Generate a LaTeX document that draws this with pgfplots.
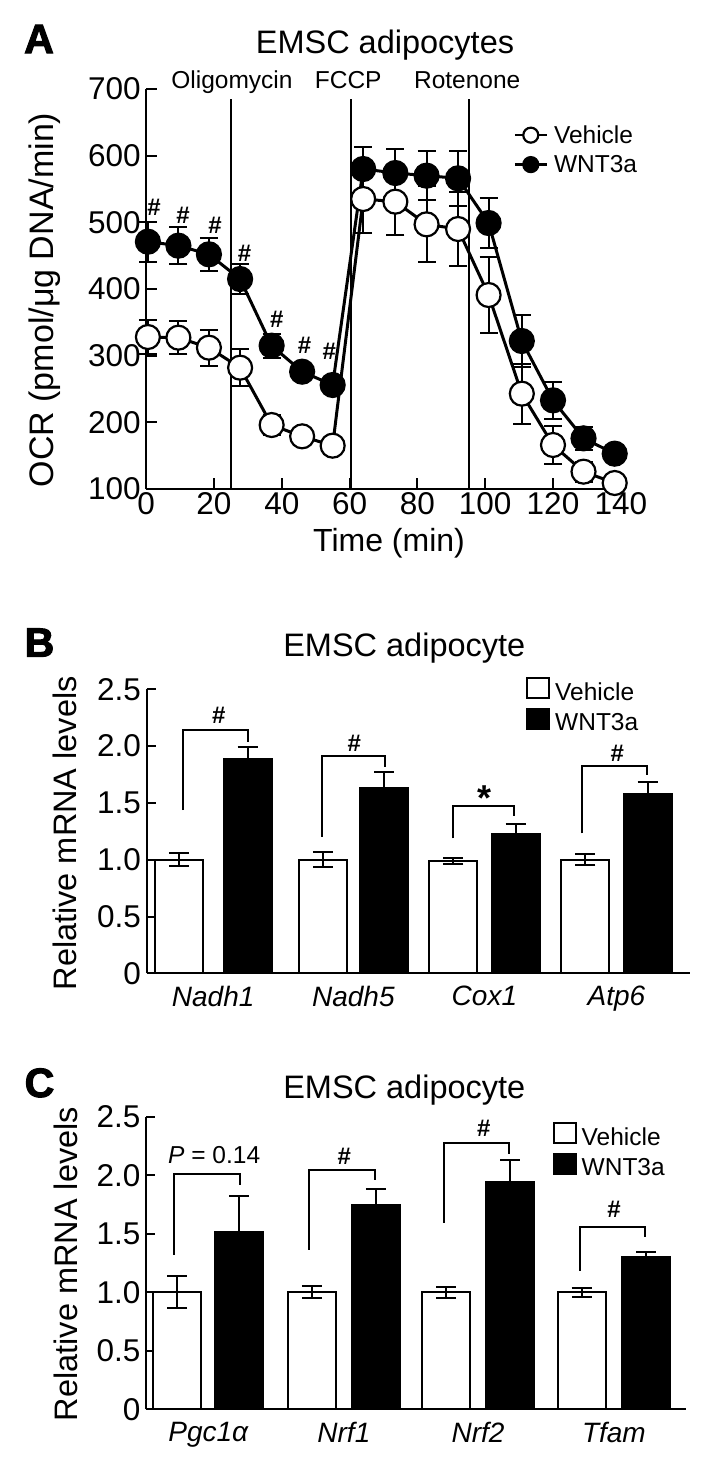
\documentclass[border=0pt]{standalone}
\usepackage{fontspec}
\setmainfont{Liberation Sans}
\newfontfamily\heavyfont{Liberation Sans}[FakeBold=2.5]
\usepackage{pgfplots}
\pgfplotsset{compat=1.18}

\newcommand{\fs}[1]{\fontsize{#1}{#1}\selectfont}

\pgfplotsset{
  panel/.style={
    scale only axis, clip=false,
    axis x line=bottom, axis y line=left,
    axis line style={-, line width=2pt},
    tick align=inside,
    tick style={black, line width=2pt},
    major tick length=9pt,
    tick label style={font=\fs{31.5}},
    yticklabel style={xshift=-2pt},
    /pgf/number format/assume math mode=true,
  },
  barpanel/.style={
    panel, ybar, bar width=48, bar shift=0pt,
    ymin=0, ymax=2.5,
    ytick={0,0.5,1,1.5,2,2.5},
    yticklabels={0,0.5,1.0,1.5,2.0,2.5},
    xtick style={draw=none},
    xticklabel style={font=\itshape\fs{28}},
    legend style={draw=none, fill=none, font=\fs{24.5}, inner sep=0pt,
      row sep=4.5pt, column sep=4pt, nodes={inner sep=1pt}},
    legend cell align=left,
    legend image code/.code={\draw[##1,/tikz/.cd,line width=2pt] (0pt,-6pt) rectangle (22pt,14pt);},
  },
  vbar/.style={fill=white, draw=black, line width=2pt,
    error bars/.cd, y dir=both, y explicit,
    error bar style={line width=2pt},
    error mark options={rotate=90, mark size=10pt, line width=2pt}},
  wbar/.style={fill=black, draw=black, line width=2pt,
    error bars/.cd, y dir=plus, y explicit,
    error bar style={line width=2pt},
    error mark options={rotate=90, mark size=10pt, line width=2pt}},
}

\begin{document}
\begin{tikzpicture}
\path[use as bounding box] (0,0) rectangle (716pt,-1470pt);

% ---------------- panel A ----------------
\node[font=\heavyfont\bfseries\fs{41}, anchor=base] at (39pt,-53pt) {A};
\node[font=\fs{32.5}, anchor=base] at (385pt,-53pt) {EMSC adipocytes};
\node[font=\fs{34}, rotate=90, anchor=base] at (53pt,-300pt) {OCR (pmol/μg DNA/min)};
\node[font=\fs{32}, anchor=base] at (389pt,-551pt) {Time (min)};

\begin{axis}[panel,
  at={(146.2pt,-489pt)}, anchor=south west,
  width=474.6pt, height=400pt,
  xmin=0, xmax=140, ymin=100, ymax=700,
  xtick={0,20,...,140}, ytick={100,200,...,700},
  major tick length=11pt,
  legend style={at={(axis cs:108.3,647)}, anchor=north west,
    draw=none, fill=none, font=\fs{24.5}, inner sep=0pt,
    row sep=8.5pt, column sep=5pt, nodes={inner sep=1pt}},
  legend cell align=left,
  legend image code/.code={\draw[mark repeat=2, mark phase=2, #1]
    plot coordinates {(0pt,0pt) (16pt,0pt) (32pt,0pt)};},
  legend image post style={mark size=7.5pt, line width=2.5pt},
]
% drug injections
\draw[line width=1.8pt] (axis cs:25.1,100) -- (axis cs:25.1,685);
\draw[line width=1.8pt] (axis cs:60.4,100) -- (axis cs:60.4,685);
\draw[line width=1.8pt] (axis cs:95.2,100) -- (axis cs:95.2,685);
\node[font=\fs{24.5}, anchor=base] at (axis cs:25.3,701) {Oligomycin};
\node[font=\fs{24.5}, anchor=base] at (axis cs:59.6,701) {FCCP};
\node[font=\fs{24.5}, anchor=base] at (axis cs:94.7,701) {Rotenone};

\addplot[black, line width=3pt, mark=*, mark size=12pt,
  mark options={solid, fill=white, draw=black, line width=2.2pt},
  error bars/.cd, y dir=both, y explicit,
  error bar style={line width=2pt},
  error mark options={rotate=90, mark size=9pt, line width=2pt}]
table[x=t, y=v, y error=e] {
t v e
0.5 328 25
9.5 327 25
18.5 312 27
27.7 282 28
37 196 15
46 179 10
55 165 12
64 535 51
73.5 531 50
82.7 497 57
92 490 56
101 391 57
110.8 243 45
120 166 28
129 126 15
138.2 109 10
};
\addplot[black, line width=3pt, mark=*, mark size=12pt,
  mark options={solid, fill=black, draw=black, line width=2.2pt},
  error bars/.cd, y dir=both, y explicit,
  error bar style={line width=2pt},
  error mark options={rotate=90, mark size=9pt, line width=2pt}]
table[x=t, y=v, y error=e] {
t v e
0.5 471 30
9.5 465 28
18.5 452 25
27.7 415 22
37 315 18
46 276 12
55 256 12
64 580 33
73.5 574 36
82.7 570 37
92 566 41
101 499 38
110.8 322 39
120 233 28
129 176 17
138.2 153 12
};
\legend{Vehicle, WNT3a}
\node[font=\bfseries\fs{24}] at (axis cs:2.3,522) {\#};
\node[font=\bfseries\fs{24}] at (axis cs:10.9,510) {\#};
\node[font=\bfseries\fs{24}] at (axis cs:20.3,495) {\#};
\node[font=\bfseries\fs{24}] at (axis cs:29,453) {\#};
\node[font=\bfseries\fs{24}] at (axis cs:38.5,355) {\#};
\node[font=\bfseries\fs{24}] at (axis cs:46.7,316) {\#};
\node[font=\bfseries\fs{24}] at (axis cs:54,306) {\#};
\end{axis}

% ---------------- panel B ----------------
\node[font=\heavyfont\bfseries\fs{41}, anchor=base] at (39.5pt,-656.7pt) {B};
\node[font=\fs{32.5}, anchor=base] at (404.3pt,-656.7pt) {EMSC adipocyte};
\node[font=\fs{32.5}, rotate=90, anchor=base] at (76.7pt,-833.3pt) {Relative mRNA levels};

\begin{axis}[barpanel,
  at={(146.5pt,-973.3pt)}, anchor=south west,
  width=543.7pt, height=284pt,
  xmin=146.5, xmax=690.2,
  xtick={213.2,353.4,484.4,616.5},
  xticklabels={Nadh1,Nadh5,Cox1,Atp6},
  legend style={at={(axis cs:526,2.606)}, anchor=north west},
]
\addplot[vbar] table[x=x, y=v, y error=e] {
x v e
178.8 1.00 0.055
322.8 1.00 0.066
453.3 0.99 0.028
585.4 1.00 0.048
};
\addplot[wbar] table[x=x, y=v, y error=e] {
x v e
247.6 1.886 0.11
384.0 1.634 0.14
515.5 1.224 0.093
647.5 1.576 0.105
};
\legend{Vehicle, WNT3a}
\draw[line width=2pt] (axis cs:183.1,1.437) |- (axis cs:248.3,2.142) -- (axis cs:248.3,2.039);
\draw[line width=2pt] (axis cs:321.6,1.200) |- (axis cs:385.0,1.915) -- (axis cs:385.0,1.819);
\draw[line width=2pt] (axis cs:453.3,1.188) |- (axis cs:513.9,1.473) -- (axis cs:513.9,1.385);
\draw[line width=2pt] (axis cs:581.8,1.232) |- (axis cs:646.9,1.827) -- (axis cs:646.9,1.746);
\node[font=\bfseries\fs{24}] at (axis cs:218.7,2.274) {\#};
\node[font=\bfseries\fs{24}] at (axis cs:354.4,2.027) {\#};
\node[font=\bfseries\fs{36}, anchor=base] at (axis cs:484.3,1.437) {*};
\node[font=\bfseries\fs{24}] at (axis cs:617.3,1.937) {\#};
\end{axis}

% ---------------- panel C ----------------
\node[font=\heavyfont\bfseries\fs{41}, anchor=base] at (39.5pt,-1097pt) {C};
\node[font=\fs{32.5}, anchor=base] at (404.3pt,-1098pt) {EMSC adipocyte};
\node[font=\fs{32.5}, rotate=90, anchor=base] at (77pt,-1264pt) {Relative mRNA levels};

\begin{axis}[barpanel,
  at={(146pt,-1409.3pt)}, anchor=south west,
  width=539.6pt, height=292.6pt,
  xmin=146, xmax=685.6,
  xtick={208.3,343.9,478.1,613.9},
  xticklabels={Pgc1α,Nrf1,Nrf2,Tfam},
  legend style={at={(axis cs:552.5,2.453)}, anchor=north west},
]
\addplot[vbar] table[x=x, y=v, y error=e] {
x v e
177.2 1.00 0.135
311.8 1.00 0.05
446.0 1.00 0.045
581.5 1.00 0.04
};
\addplot[wbar] table[x=x, y=v, y error=e] {
x v e
239.4 1.513 0.31
375.9 1.749 0.136
510.2 1.945 0.183
646.2 1.304 0.04
};
\legend{Vehicle, WNT3a}
\draw[line width=2pt] (axis cs:174.0,1.319) |- (axis cs:240.0,2.011) -- (axis cs:240.0,1.917);
\draw[line width=2pt] (axis cs:309.3,1.362) |- (axis cs:375.0,2.045) -- (axis cs:375.0,1.960);
\draw[line width=2pt] (axis cs:444.2,1.595) |- (axis cs:508.9,2.273) -- (axis cs:508.9,2.182);
\draw[line width=2pt] (axis cs:579.5,1.185) |- (axis cs:644.6,1.561) -- (axis cs:644.6,1.470);
\node[font=\fs{24.5}, anchor=base] at (axis cs:214.2,2.103) {\textit{P} = 0.14};
\node[font=\bfseries\fs{24}] at (axis cs:344.3,2.159) {\#};
\node[font=\bfseries\fs{24}] at (axis cs:483.8,2.400) {\#};
\node[font=\bfseries\fs{24}] at (axis cs:614.1,1.709) {\#};
\end{axis}
\end{tikzpicture}
\end{document}
